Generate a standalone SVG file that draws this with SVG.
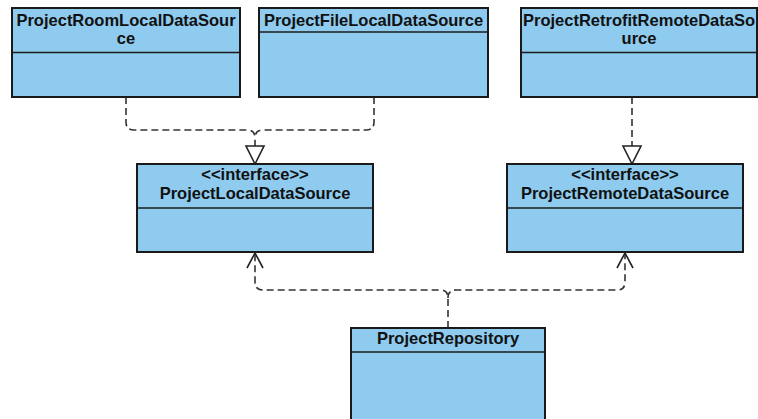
<svg xmlns="http://www.w3.org/2000/svg" width="758" height="419" viewBox="0 0 758 419">
  <style>
    .box { fill: #8ecbef; stroke: #1a1a1a; stroke-width: 2; }
    .div { stroke: #1a1a1a; stroke-width: 1.5; }
    .lbl { font-family: "Liberation Sans", Arial, sans-serif; font-weight: bold; font-size: 16.5px; fill: #111; text-anchor: middle; }
    .dash { fill: none; stroke: #333; stroke-width: 1.6; stroke-dasharray: 7 4; }
    .head { fill: #fff; stroke: #222; stroke-width: 1.6; }
    .open { fill: none; stroke: #222; stroke-width: 1.6; }
  </style>
  <rect width="758" height="419" fill="#fff"/>

  <g id="connectors">
    <!-- two local implementations realize ProjectLocalDataSource -->
    <path class="dash" d="M126,97 V122 Q126,130 134,130 H247 Q255,130 255,138 V146"/>
    <path class="dash" d="M374,97 V122 Q374,130 366,130 H263 Q255,130 255,138"/>
    <polygon class="head" points="246,146 264,146 255,164"/>
    <!-- remote implementation realizes ProjectRemoteDataSource -->
    <path class="dash" d="M632,97 V146"/>
    <polygon class="head" points="623,146 641,146 632,164"/>
    <!-- repository depends on both data sources -->
    <path class="dash" d="M448,328 V298 Q448,290 440,290 H263 Q255,290 255,282 V254"/>
    <path class="dash" d="M448,298 Q448,290 456,290 H617 Q625,290 625,282 V254"/>
    <polyline class="open" points="247,268 255,253 263,268"/>
    <polyline class="open" points="617,268 625,253 633,268"/>
  </g>

  <g id="ProjectRoomLocalDataSource">
    <rect class="box" x="12" y="8" width="228" height="89"/>
    <line class="div" x1="12" y1="52.5" x2="240" y2="52.5"/>
    <text class="lbl" x="126" y="26">ProjectRoomLocalDataSour</text>
    <text class="lbl" x="126" y="44">ce</text>
  </g>

  <g id="ProjectFileLocalDataSource">
    <rect class="box" x="259" y="8" width="229" height="89"/>
    <line class="div" x1="259" y1="32" x2="488" y2="32"/>
    <text class="lbl" x="373.5" y="26">ProjectFileLocalDataSource</text>
  </g>

  <g id="ProjectRetrofitRemoteDataSource">
    <rect class="box" x="521" y="8" width="236" height="89"/>
    <line class="div" x1="521" y1="52.5" x2="757" y2="52.5"/>
    <text class="lbl" x="639" y="26">ProjectRetrofitRemoteDataSo</text>
    <text class="lbl" x="639" y="44">urce</text>
  </g>

  <g id="ProjectLocalDataSource">
    <rect class="box" x="137" y="164" width="236" height="88"/>
    <line class="div" x1="137" y1="208" x2="373" y2="208"/>
    <text class="lbl" x="255" y="180">&lt;&lt;interface&gt;&gt;</text>
    <text class="lbl" x="255" y="199">ProjectLocalDataSource</text>
  </g>

  <g id="ProjectRemoteDataSource">
    <rect class="box" x="507" y="164" width="236" height="88"/>
    <line class="div" x1="507" y1="208" x2="743" y2="208"/>
    <text class="lbl" x="625" y="180">&lt;&lt;interface&gt;&gt;</text>
    <text class="lbl" x="625" y="199">ProjectRemoteDataSource</text>
  </g>

  <g id="ProjectRepository">
    <rect class="box" x="351" y="328" width="194" height="110"/>
    <line class="div" x1="351" y1="352" x2="545" y2="352"/>
    <text class="lbl" x="448" y="344">ProjectRepository</text>
  </g>
</svg>
